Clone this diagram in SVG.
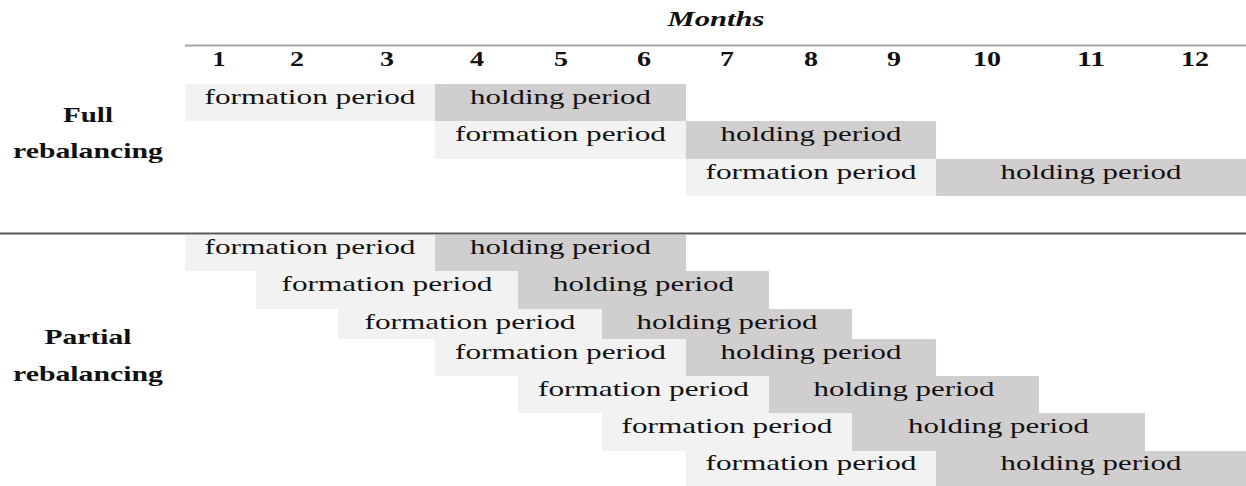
<svg xmlns="http://www.w3.org/2000/svg" width="1246" height="486" viewBox="0 0 1246 486">
<style>
.f{fill:#f2f2f2}
.h{fill:#d0cece}
.t{font-family:"Liberation Serif","Times New Roman",serif;font-size:22px;fill:#111;text-anchor:middle}
.n{font-family:"Liberation Serif","Times New Roman",serif;font-size:20px;font-weight:bold;fill:#111;text-anchor:middle}
.lb{font-family:"Liberation Serif","Times New Roman",serif;font-size:22px;font-weight:bold;fill:#111;text-anchor:middle}
.mo{font-family:"Liberation Serif","Times New Roman",serif;font-size:20px;font-weight:bold;font-style:italic;fill:#111;text-anchor:middle}
</style>
<rect width="1246" height="486" fill="#ffffff"/>
<g id="header">
<text class="mo" x="716" y="26" textLength="97" lengthAdjust="spacingAndGlyphs">Months</text>
<text class="n" x="219" y="66" textLength="13" lengthAdjust="spacingAndGlyphs">1</text>
<text class="n" x="297" y="66" textLength="14" lengthAdjust="spacingAndGlyphs">2</text>
<text class="n" x="387" y="66" textLength="14" lengthAdjust="spacingAndGlyphs">3</text>
<text class="n" x="477" y="66" textLength="14" lengthAdjust="spacingAndGlyphs">4</text>
<text class="n" x="561" y="66" textLength="14" lengthAdjust="spacingAndGlyphs">5</text>
<text class="n" x="644" y="66" textLength="14" lengthAdjust="spacingAndGlyphs">6</text>
<text class="n" x="727" y="66" textLength="14" lengthAdjust="spacingAndGlyphs">7</text>
<text class="n" x="811" y="66" textLength="14" lengthAdjust="spacingAndGlyphs">8</text>
<text class="n" x="894" y="66" textLength="14" lengthAdjust="spacingAndGlyphs">9</text>
<text class="n" x="987" y="66" textLength="28" lengthAdjust="spacingAndGlyphs">10</text>
<text class="n" x="1091" y="66" textLength="28" lengthAdjust="spacingAndGlyphs">11</text>
<text class="n" x="1195" y="66" textLength="28" lengthAdjust="spacingAndGlyphs">12</text>
</g>
<g id="rules">
<line x1="185" y1="45.5" x2="1246" y2="45.5" stroke="#a6a6a6" stroke-width="2"/>
<line x1="0" y1="233.5" x2="1246" y2="233.5" stroke="#595959" stroke-width="2"/>
</g>
<g id="label-full">
<text class="lb" x="88" y="122" textLength="50" lengthAdjust="spacingAndGlyphs">Full</text>
<text class="lb" x="88" y="158" textLength="150" lengthAdjust="spacingAndGlyphs">rebalancing</text>
</g>
<g id="label-partial">
<text class="lb" x="88" y="344" textLength="87" lengthAdjust="spacingAndGlyphs">Partial</text>
<text class="lb" x="88" y="381" textLength="150" lengthAdjust="spacingAndGlyphs">rebalancing</text>
</g>
<g id="full-row1">
<rect class="f" x="185" y="84" width="250" height="37"/>
<rect class="h" x="435" y="84" width="251" height="37"/>
<text class="t" x="310" y="103.5" textLength="211" lengthAdjust="spacingAndGlyphs">formation period</text>
<text class="t" x="560.5" y="103.5" textLength="181" lengthAdjust="spacingAndGlyphs">holding period</text>
</g>
<g id="full-row2">
<rect class="f" x="435" y="121" width="251" height="38"/>
<rect class="h" x="686" y="121" width="250" height="38"/>
<text class="t" x="560.5" y="140.5" textLength="211" lengthAdjust="spacingAndGlyphs">formation period</text>
<text class="t" x="811" y="140.5" textLength="181" lengthAdjust="spacingAndGlyphs">holding period</text>
</g>
<g id="full-row3">
<rect class="f" x="686" y="159" width="250" height="37"/>
<rect class="h" x="936" y="159" width="310" height="37"/>
<text class="t" x="811" y="178.5" textLength="211" lengthAdjust="spacingAndGlyphs">formation period</text>
<text class="t" x="1091" y="178.5" textLength="181" lengthAdjust="spacingAndGlyphs">holding period</text>
</g>
<g id="partial-row1">
<rect class="f" x="185" y="235" width="250" height="36"/>
<rect class="h" x="435" y="235" width="251" height="36"/>
<text class="t" x="310" y="254" textLength="211" lengthAdjust="spacingAndGlyphs">formation period</text>
<text class="t" x="560.5" y="254" textLength="181" lengthAdjust="spacingAndGlyphs">holding period</text>
</g>
<g id="partial-row2">
<rect class="f" x="256" y="271" width="262" height="38"/>
<rect class="h" x="518" y="271" width="251" height="38"/>
<text class="t" x="387" y="290.5" textLength="211" lengthAdjust="spacingAndGlyphs">formation period</text>
<text class="t" x="643.5" y="290.5" textLength="181" lengthAdjust="spacingAndGlyphs">holding period</text>
</g>
<g id="partial-row3">
<rect class="f" x="338" y="309" width="264" height="30"/>
<rect class="h" x="602" y="309" width="250" height="30"/>
<text class="t" x="470" y="328.5" textLength="211" lengthAdjust="spacingAndGlyphs">formation period</text>
<text class="t" x="727" y="328.5" textLength="181" lengthAdjust="spacingAndGlyphs">holding period</text>
</g>
<g id="partial-row4">
<rect class="f" x="435" y="339" width="251" height="37"/>
<rect class="h" x="686" y="339" width="250" height="37"/>
<text class="t" x="560.5" y="358.5" textLength="211" lengthAdjust="spacingAndGlyphs">formation period</text>
<text class="t" x="811" y="358.5" textLength="181" lengthAdjust="spacingAndGlyphs">holding period</text>
</g>
<g id="partial-row5">
<rect class="f" x="518" y="376" width="251" height="37"/>
<rect class="h" x="769" y="376" width="270" height="37"/>
<text class="t" x="643.5" y="395.5" textLength="211" lengthAdjust="spacingAndGlyphs">formation period</text>
<text class="t" x="904" y="395.5" textLength="181" lengthAdjust="spacingAndGlyphs">holding period</text>
</g>
<g id="partial-row6">
<rect class="f" x="602" y="413" width="250" height="38"/>
<rect class="h" x="852" y="413" width="293" height="38"/>
<text class="t" x="727" y="432.5" textLength="211" lengthAdjust="spacingAndGlyphs">formation period</text>
<text class="t" x="998.5" y="432.5" textLength="181" lengthAdjust="spacingAndGlyphs">holding period</text>
</g>
<g id="partial-row7">
<rect class="f" x="686" y="451" width="250" height="35"/>
<rect class="h" x="936" y="451" width="310" height="35"/>
<text class="t" x="811" y="470" textLength="211" lengthAdjust="spacingAndGlyphs">formation period</text>
<text class="t" x="1091" y="470" textLength="181" lengthAdjust="spacingAndGlyphs">holding period</text>
</g>
</svg>
